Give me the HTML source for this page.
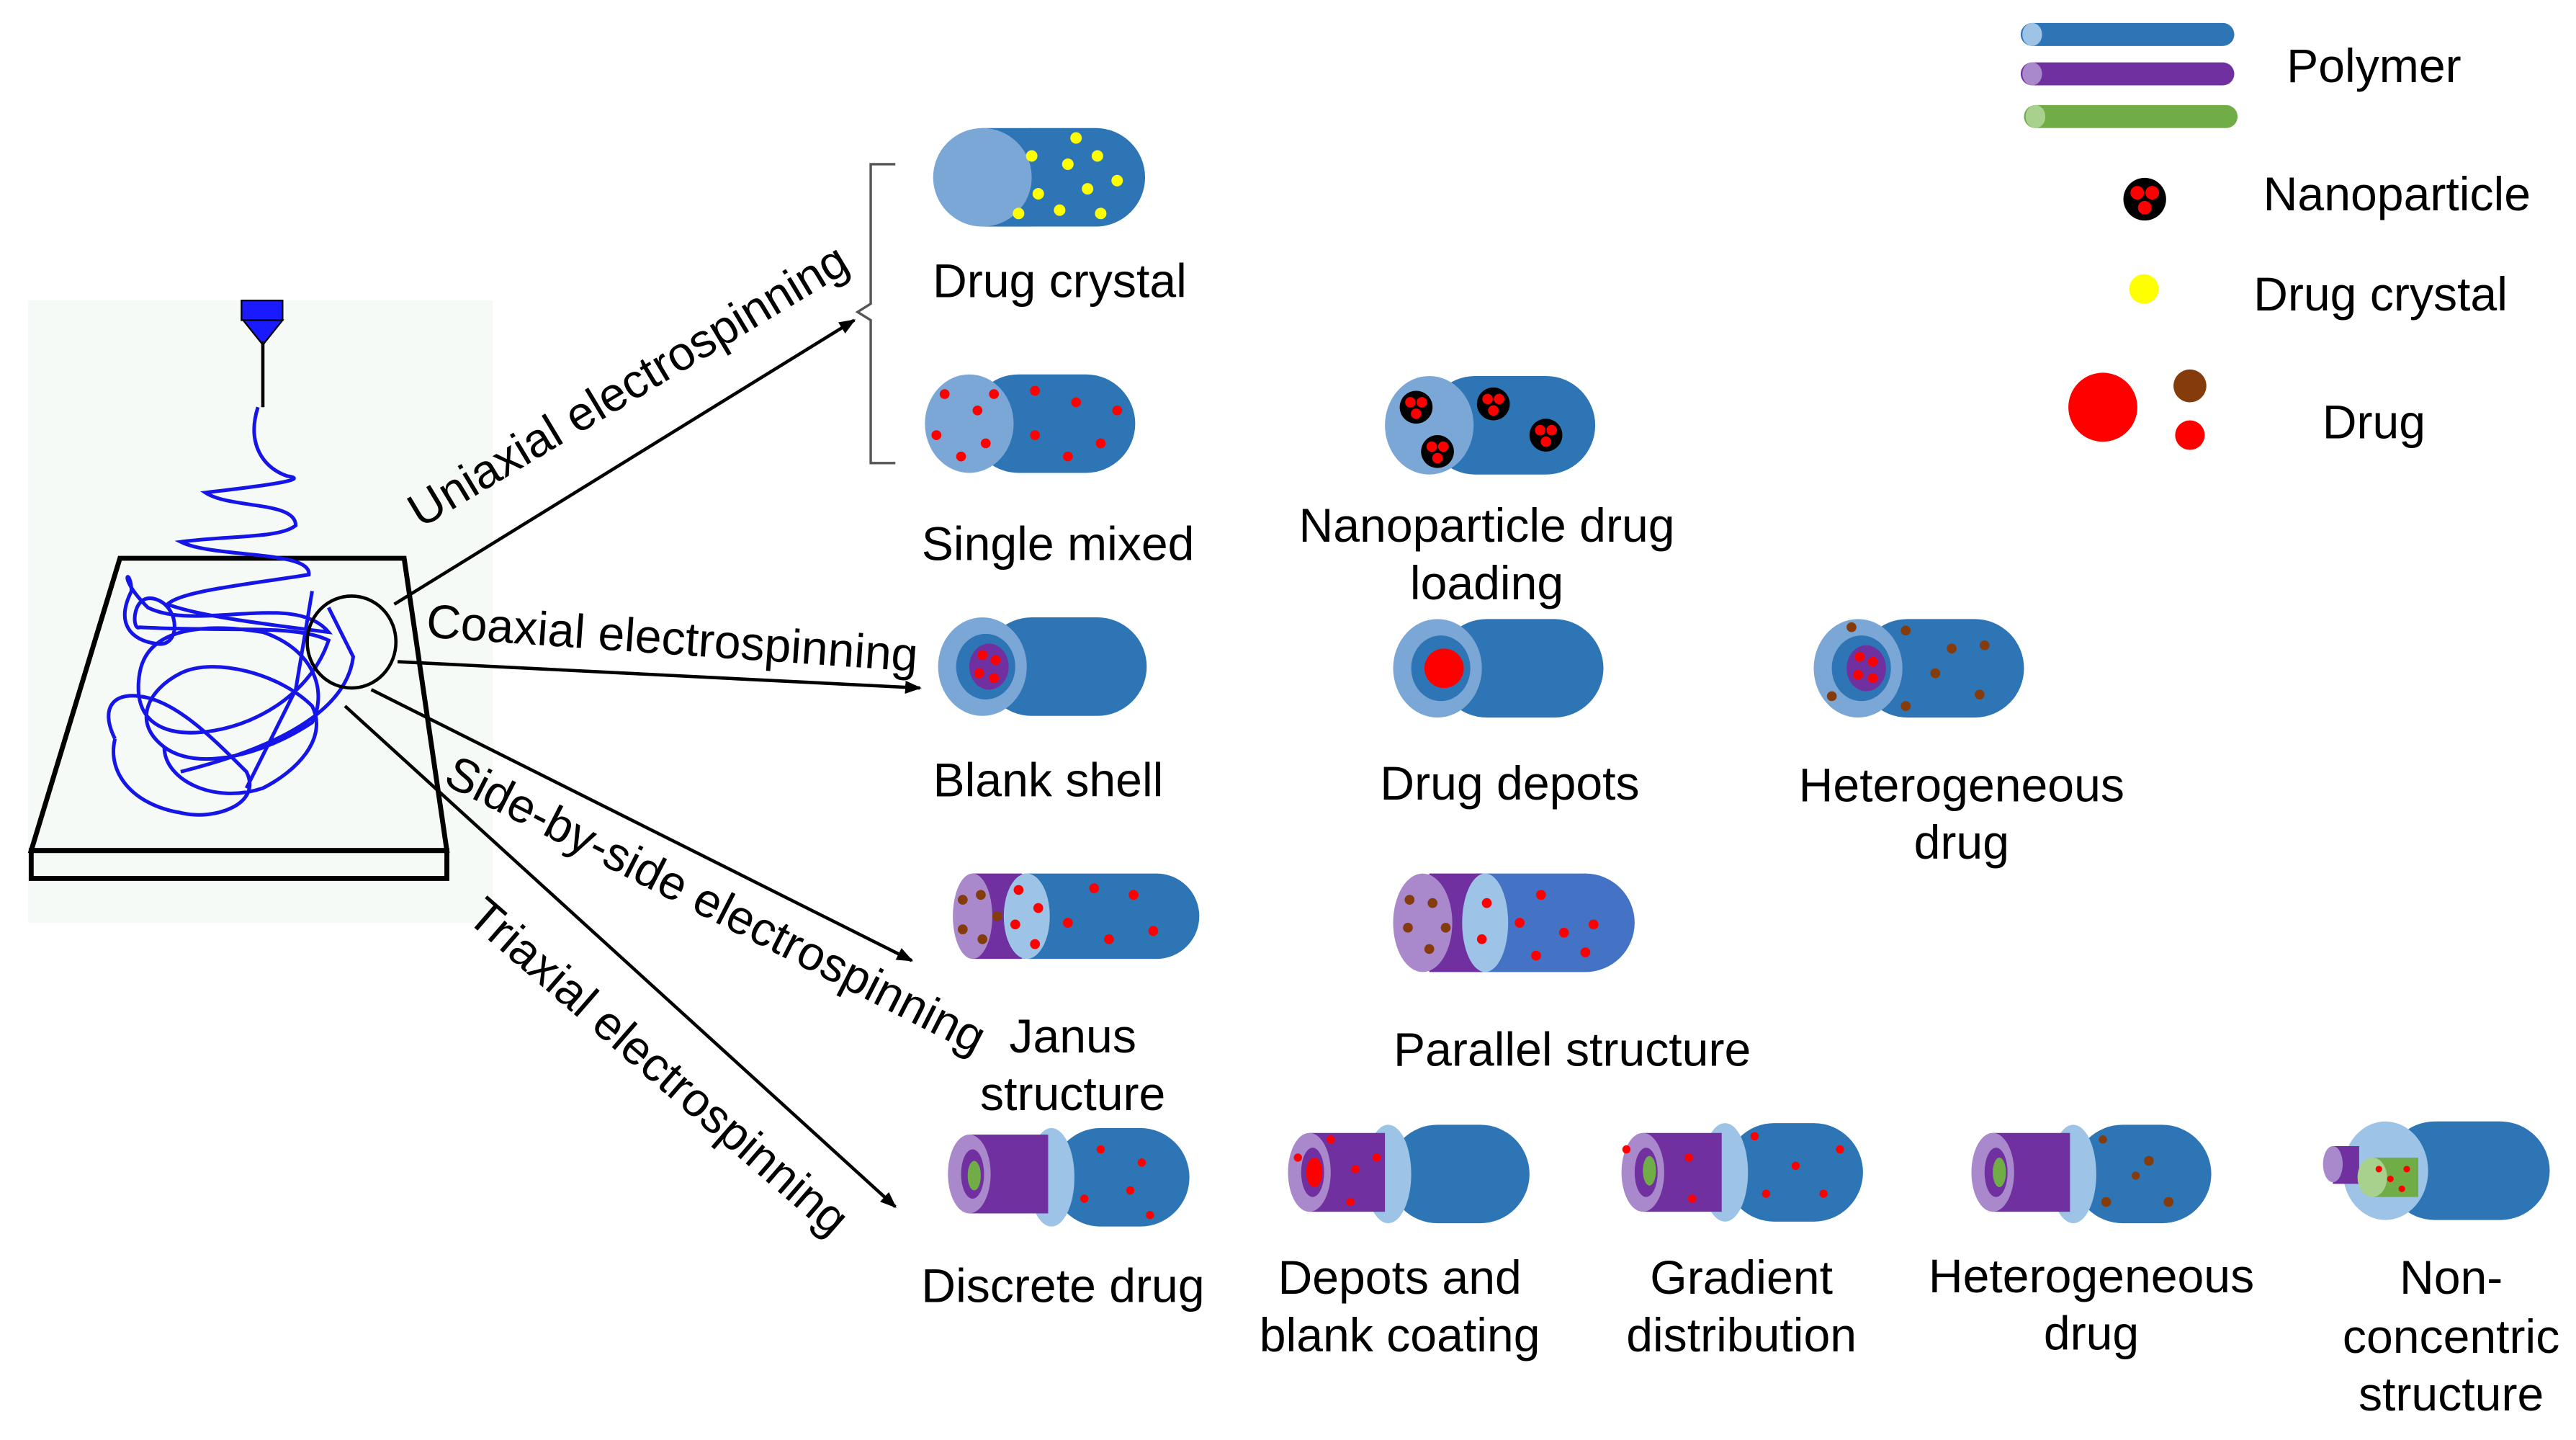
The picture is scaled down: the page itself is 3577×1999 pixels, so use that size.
<!DOCTYPE html>
<html><head><style>html,body{margin:0;padding:0;background:#fff;}svg{display:block}</style></head>
<body>
<svg width="3577" height="1999" viewBox="0 0 1568 877" preserveAspectRatio="none" xmlns="http://www.w3.org/2000/svg" font-family="Liberation Sans, sans-serif">
<defs>
<marker id="ar" markerWidth="10" markerHeight="8" refX="9" refY="4" orient="auto" markerUnits="userSpaceOnUse"><path d="M0,0 L10,4 L0,8 z" fill="#000"/></marker>
<g id="np"><circle r="10" fill="#000"/><circle cx="-3.5" cy="-3" r="3.2" fill="#f00"/><circle cx="3.5" cy="-3" r="3.2" fill="#f00"/><circle cx="0" cy="4" r="3.2" fill="#f00"/></g>
</defs>
<rect width="1568" height="877" fill="#fff"/>
<!-- apparatus -->
<rect x="17" y="183" width="283" height="379" fill="#f6faf6"/>
<rect x="147" y="183" width="25" height="12" fill="#1a1aff" stroke="#000" stroke-width="1"/>
<path d="M148,195 L172,195 L160,210 z" fill="#1a1aff" stroke="#000" stroke-width="1"/>
<line x1="160" y1="208" x2="160" y2="248" stroke="#000" stroke-width="2"/>
<path d="M73,340 L246,340 L272,518 L19,518 z" fill="none" stroke="#000" stroke-width="3"/>
<rect x="19" y="518" width="253" height="17" fill="none" stroke="#000" stroke-width="3"/>
<path d="M157,248 C150,270 160,285 175,290 C190,292 160,296 125,300 C140,310 180,305 180,320 C170,328 140,326 110,330 C130,340 190,335 188,350 C150,356 110,360 102,368 C120,375 160,380 200,385 C180,360 120,385 90,370 C70,350 80,345 80,360 C70,380 80,390 95,392 C110,395 110,370 95,365 C80,360 80,385 85,382 C140,385 180,380 200,390 C190,420 160,440 130,445 C100,450 80,440 85,410 C90,380 130,380 160,385 C190,395 200,420 190,440 C160,460 120,470 100,455 C80,440 90,420 110,410 C130,400 170,410 190,430 C200,450 180,470 160,480 C130,490 100,475 100,455 M190,360 L180,420 L150,480 M70,450 C60,430 70,420 90,425 C110,430 130,450 150,470 C160,490 130,500 110,495 C80,490 65,470 70,450 M110,470 C150,460 210,440 215,400 L200,370" fill="none" stroke="#1515e8" stroke-width="2.2"/>
<ellipse cx="214" cy="391" rx="27" ry="28" fill="none" stroke="#000" stroke-width="2"/>
<!-- arrows -->
<g stroke="#000" stroke-width="2" fill="none">
<line x1="240" y1="368" x2="520" y2="195" marker-end="url(#ar)"/>
<line x1="242" y1="403" x2="560" y2="419" marker-end="url(#ar)"/>
<line x1="226" y1="420" x2="555" y2="585" marker-end="url(#ar)"/>
<line x1="210" y1="430" x2="545" y2="735" marker-end="url(#ar)"/>
<path d="M545,100 L530,100 L530,185 L522,190 L530,195 L530,282 L545,282" stroke="#555" stroke-width="1.5"/>
</g>
<g font-size="29" fill="#000">
<text transform="translate(256,322) rotate(-31)">Uniaxial electrospinning</text>
<text transform="translate(259,388) rotate(4)">Coaxial  electrospinning</text>
<text transform="translate(269,477) rotate(27)">Side-by-side electrospinning</text>
<text transform="translate(283,560) rotate(41)">Triaxial electrospinning</text>
</g>
<!-- Drug crystal -->
<rect x="598" y="78" width="99" height="60" rx="30" fill="#2e75b6"/>
<rect x="598" y="78" width="30" height="60" fill="#2e75b6"/>
<ellipse cx="598" cy="108" rx="30" ry="30" fill="#7ba7d6"/>
<g fill="#ff0"><circle cx="628" cy="95" r="3.5"/><circle cx="650" cy="100" r="3.5"/><circle cx="668" cy="95" r="3.5"/><circle cx="632" cy="118" r="3.5"/><circle cx="662" cy="115" r="3.5"/><circle cx="680" cy="110" r="3.5"/><circle cx="645" cy="128" r="3.5"/><circle cx="670" cy="130" r="3.5"/><circle cx="620" cy="130" r="3.5"/><circle cx="655" cy="84" r="3.5"/></g>
<!-- single mixed -->
<rect x="590" y="228" width="101" height="60" rx="30" fill="#2e75b6"/>
<ellipse cx="590" cy="258" rx="27" ry="30" fill="#7ba7d6"/>
<g fill="#f00"><circle cx="575" cy="240" r="3"/><circle cx="595" cy="250" r="3"/><circle cx="570" cy="265" r="3"/><circle cx="585" cy="278" r="3"/><circle cx="605" cy="240" r="3"/><circle cx="600" cy="270" r="3"/><circle cx="630" cy="238" r="3"/><circle cx="655" cy="245" r="3"/><circle cx="630" cy="265" r="3"/><circle cx="670" cy="270" r="3"/><circle cx="650" cy="278" r="3"/><circle cx="680" cy="250" r="3"/></g>
<!-- nanoparticle -->
<rect x="868" y="229" width="103" height="60" rx="30" fill="#2e75b6"/>
<ellipse cx="870" cy="259" rx="27" ry="30" fill="#7ba7d6"/>
<use href="#np" x="862" y="248"/><use href="#np" x="875" y="275"/><use href="#np" x="909" y="246"/><use href="#np" x="941" y="265"/>
<!-- blank shell -->
<rect x="598" y="376" width="100" height="60" rx="30" fill="#2e75b6"/>
<ellipse cx="598" cy="406" rx="27" ry="30" fill="#7ba7d6"/>
<ellipse cx="600" cy="406" rx="18" ry="20" fill="#2e75b6"/>
<ellipse cx="602" cy="406" rx="12" ry="14" fill="#7030a0"/>
<g fill="#f00"><circle cx="598" cy="399" r="3"/><circle cx="606" cy="402" r="3"/><circle cx="596" cy="410" r="3"/><circle cx="605" cy="413" r="3"/></g>
<!-- drug depots -->
<rect x="875" y="377" width="101" height="60" rx="30" fill="#2e75b6"/>
<ellipse cx="875" cy="407" rx="27" ry="30" fill="#7ba7d6"/>
<ellipse cx="877" cy="407" rx="18" ry="20" fill="#2e75b6"/>
<circle cx="879" cy="407" r="12" fill="#f00"/>
<!-- heterogeneous -->
<rect x="1131" y="377" width="101" height="60" rx="30" fill="#2e75b6"/>
<ellipse cx="1131" cy="407" rx="27" ry="30" fill="#7ba7d6"/>
<ellipse cx="1133" cy="407" rx="18" ry="20" fill="#2e75b6"/>
<ellipse cx="1136" cy="407" rx="12" ry="14" fill="#7030a0"/>
<g fill="#f00"><circle cx="1132" cy="400" r="3"/><circle cx="1140" cy="403" r="3"/><circle cx="1131" cy="411" r="3"/><circle cx="1140" cy="413" r="3"/></g>
<g fill="#843c0c"><circle cx="1127" cy="382" r="3"/><circle cx="1160" cy="384" r="3"/><circle cx="1188" cy="395" r="3"/><circle cx="1208" cy="393" r="3"/><circle cx="1178" cy="410" r="3"/><circle cx="1115" cy="424" r="3"/><circle cx="1160" cy="430" r="3"/><circle cx="1205" cy="423" r="3"/></g>
<!-- Janus -->
<rect x="600" y="532" width="130" height="52" rx="26" fill="#2e75b6"/>
<rect x="592" y="532" width="30" height="52" fill="#7030a0"/>
<ellipse cx="592" cy="558" rx="12" ry="26" fill="#a988cc"/>
<ellipse cx="625" cy="558" rx="14" ry="26" fill="#9dc3e6"/>
<g fill="#843c0c"><circle cx="586" cy="548" r="3"/><circle cx="597" cy="545" r="3"/><circle cx="586" cy="566" r="3"/><circle cx="598" cy="572" r="3"/><circle cx="607" cy="558" r="3"/></g>
<g fill="#f00"><circle cx="620" cy="542" r="3"/><circle cx="632" cy="553" r="3"/><circle cx="618" cy="563" r="3"/><circle cx="630" cy="575" r="3"/><circle cx="666" cy="541" r="3"/><circle cx="690" cy="545" r="3"/><circle cx="650" cy="562" r="3"/><circle cx="675" cy="572" r="3"/><circle cx="702" cy="567" r="3"/></g>
<!-- Parallel -->
<rect x="870" y="532" width="125" height="60" rx="30" fill="#4472c4"/>
<rect x="870" y="532" width="32" height="60" fill="#7030a0"/>
<ellipse cx="866" cy="562" rx="18" ry="30" fill="#a988cc"/>
<ellipse cx="904" cy="562" rx="14" ry="30" fill="#9dc3e6"/>
<g fill="#843c0c"><circle cx="858" cy="548" r="3"/><circle cx="872" cy="550" r="3"/><circle cx="857" cy="565" r="3"/><circle cx="870" cy="578" r="3"/><circle cx="880" cy="565" r="3"/></g>
<g fill="#f00"><circle cx="905" cy="550" r="3"/><circle cx="902" cy="572" r="3"/><circle cx="938" cy="545" r="3"/><circle cx="925" cy="562" r="3"/><circle cx="952" cy="568" r="3"/><circle cx="935" cy="582" r="3"/><circle cx="970" cy="563" r="3"/><circle cx="965" cy="580" r="3"/></g>
<!-- triaxial row -->
<g>
<rect x="640" y="687" width="84" height="60" rx="30" fill="#2e75b6"/><ellipse cx="640" cy="717" rx="14" ry="30" fill="#9dc3e6"/><rect x="590" y="691" width="48" height="48" fill="#7030a0"/><ellipse cx="590" cy="715" rx="13" ry="24" fill="#a988cc"/><ellipse cx="592" cy="715" rx="7" ry="15" fill="#7030a0"/><ellipse cx="593" cy="716" rx="4" ry="9" fill="#70ad47"/>
<g fill="#f00"><circle cx="670" cy="700" r="2.5"/><circle cx="695" cy="708" r="2.5"/><circle cx="688" cy="725" r="2.5"/><circle cx="660" cy="730" r="2.5"/><circle cx="700" cy="740" r="2.5"/></g>
</g>
<g>
<rect x="845" y="685" width="86" height="60" rx="30" fill="#2e75b6"/><ellipse cx="845" cy="715" rx="14" ry="30" fill="#9dc3e6"/><rect x="797" y="690" width="46" height="48" fill="#7030a0"/><ellipse cx="797" cy="714" rx="13" ry="24" fill="#a988cc"/><ellipse cx="799" cy="714" rx="7" ry="15" fill="#7030a0"/><ellipse cx="800" cy="714" rx="5" ry="9" fill="#f00"/>
<g fill="#f00"><circle cx="810" cy="694" r="2.5"/><circle cx="825" cy="712" r="2.5"/><circle cx="838" cy="705" r="2.5"/><circle cx="790" cy="705" r="2.5"/><circle cx="822" cy="732" r="2.5"/></g>
</g>
<g>
<rect x="1050" y="684" width="84" height="60" rx="30" fill="#2e75b6"/><ellipse cx="1050" cy="714" rx="14" ry="30" fill="#9dc3e6"/><rect x="1000" y="690" width="48" height="48" fill="#7030a0"/><ellipse cx="1000" cy="714" rx="13" ry="24" fill="#a988cc"/><ellipse cx="1002" cy="714" rx="7" ry="15" fill="#7030a0"/><ellipse cx="1004" cy="713" rx="4" ry="9" fill="#70ad47"/>
<g fill="#f00"><circle cx="1068" cy="692" r="2.5"/><circle cx="1093" cy="710" r="2.5"/><circle cx="1110" cy="727" r="2.5"/><circle cx="1075" cy="727" r="2.5"/><circle cx="1120" cy="700" r="2.5"/><circle cx="1028" cy="705" r="2.5"/><circle cx="1030" cy="730" r="2.5"/><circle cx="990" cy="700" r="2.5"/></g>
</g>
<g>
<rect x="1262" y="685" width="84" height="60" rx="30" fill="#2e75b6"/><ellipse cx="1262" cy="715" rx="14" ry="30" fill="#9dc3e6"/><rect x="1213" y="690" width="47" height="48" fill="#7030a0"/><ellipse cx="1213" cy="714" rx="13" ry="24" fill="#a988cc"/><ellipse cx="1215" cy="714" rx="7" ry="15" fill="#7030a0"/><ellipse cx="1217" cy="714" rx="4" ry="9" fill="#70ad47"/>
<g fill="#843c0c"><circle cx="1280" cy="694" r="2.5"/><circle cx="1308" cy="707" r="3"/><circle cx="1300" cy="716" r="2.5"/><circle cx="1282" cy="732" r="3"/><circle cx="1320" cy="732" r="3"/></g>
</g>
<g>
<rect x="1452" y="683" width="100" height="60" rx="30" fill="#2e75b6"/><ellipse cx="1452" cy="713" rx="26" ry="30" fill="#9dc3e6"/>
<rect x="1420" y="698" width="16" height="23" fill="#7030a0"/><ellipse cx="1420" cy="709" rx="6" ry="11" fill="#a988cc"/>
<rect x="1444" y="705" width="28" height="24" fill="#70ad47"/><ellipse cx="1444" cy="717" rx="9" ry="12" fill="#a9d18e"/>
<g fill="#f00"><circle cx="1448" cy="712" r="2"/><circle cx="1455" cy="718" r="2"/><circle cx="1465" cy="712" r="2"/><circle cx="1462" cy="724" r="2"/></g>
</g>
<!-- legend -->
<g>
<rect x="1230" y="14" width="130" height="14" rx="7" fill="#2e75b6"/><ellipse cx="1237" cy="21" rx="6" ry="7" fill="#9dc3e6"/>
<rect x="1230" y="38" width="130" height="14" rx="7" fill="#7030a0"/><ellipse cx="1237" cy="45" rx="6" ry="7" fill="#a988cc"/>
<rect x="1232" y="64" width="130" height="14" rx="7" fill="#70ad47"/><ellipse cx="1239" cy="71" rx="6" ry="7" fill="#a9d18e"/>
<use href="#np" x="1305" y="121" transform="translate(-391,-36) scale(1.3)"/>
<circle cx="1305" cy="176" r="9" fill="#ff0"/>
<circle cx="1280" cy="248" r="21" fill="#f00"/>
<circle cx="1333" cy="235" r="10" fill="#843c0c"/>
<circle cx="1333" cy="265" r="9" fill="#f00"/>
</g>
<g font-size="29" fill="#000" text-anchor="middle">
<text x="1445" y="50">Polymer</text>
<text x="1459" y="128">Nanoparticle</text>
<text x="1449" y="189">Drug crystal</text>
<text x="1445" y="267">Drug</text>
<text x="645" y="181">Drug crystal</text>
<text x="644" y="341">Single mixed</text>
<text x="905" y="330">Nanoparticle drug</text>
<text x="905" y="365">loading</text>
<text x="638" y="485">Blank shell</text>
<text x="919" y="487">Drug depots</text>
<text x="1194" y="488">Heterogeneous</text>
<text x="1194" y="523">drug</text>
<text x="653" y="641">Janus</text>
<text x="653" y="676">structure</text>
<text x="957" y="649">Parallel structure</text>
<text x="647" y="793">Discrete drug</text>
<text x="852" y="788">Depots and</text>
<text x="852" y="823">blank coating</text>
<text x="1060" y="788">Gradient</text>
<text x="1060" y="823">distribution</text>
<text x="1273" y="787">Heterogeneous</text>
<text x="1273" y="822">drug</text>
<text x="1492" y="788">Non-</text>
<text x="1492" y="824">concentric</text>
<text x="1492" y="859">structure</text>
</g>
</svg>
</body></html>
